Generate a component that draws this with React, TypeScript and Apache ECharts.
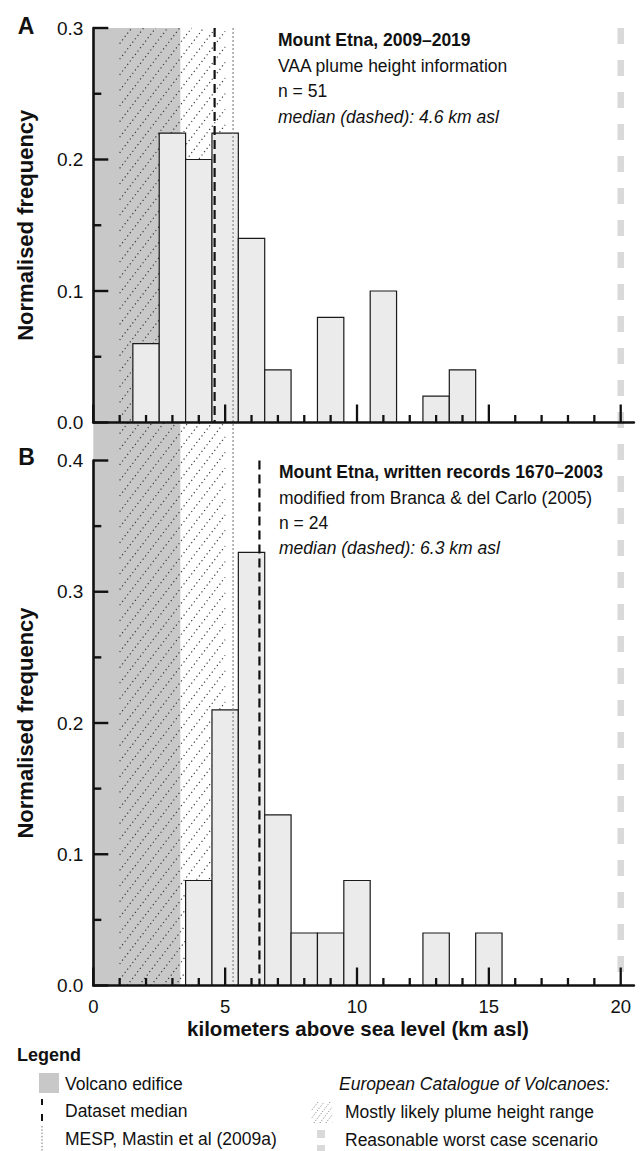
import React, { useEffect, useRef } from 'react';
import * as echarts from 'echarts';

// ---- data ----
const binCentersA = [2, 3, 4, 5, 6, 7, 9, 11, 13, 14];
const freqA = [0.06, 0.22, 0.2, 0.22, 0.14, 0.04, 0.08, 0.1, 0.02, 0.04];
const binCentersB = [4, 5, 6, 7, 8, 9, 10, 13, 15];
const freqB = [0.08, 0.21, 0.33, 0.13, 0.04, 0.04, 0.08, 0.04, 0.04];
const binWidth = 1;
const medianA = 4.6;
const medianB = 6.3;
const yMaxA = 0.3;
const yMaxB = 0.4;
const edifice = [0, 3.3];
const plumeRange = [1, 5];
const mesp = 5.3;
const worstCase = 20;
const xMax = 20.5;
const xMajorTicks = [0, 5, 10, 15, 20];
const xMinorTicks = [1, 2, 3, 4, 6, 7, 8, 9, 11, 12, 13, 14, 16, 17, 18, 19];
const yMajorA = [0, 0.1, 0.2, 0.3];
const yMinorA = [0.05, 0.15, 0.25];
const yMajorB = [0, 0.1, 0.2, 0.3, 0.4];
const yMinorB = [0.05, 0.15, 0.25, 0.35];

const FONT = '"Liberation Sans", Arial, Helvetica, sans-serif';
const INK = '#111111';

const LEFT = 93.3;
const WIDTH = 540.6;
const TOP_A = 28;
const H_A = 394.5;
const TOP_B = 460.5;
const H_B = 525;

function xAxis(gridIndex: number, labels: boolean) {
  return {
    type: 'value', gridIndex, min: 0, max: xMax, interval: 5, z: 50,
    axisLine: { show: true, onZero: false, lineStyle: { color: INK, width: 2.6 } },
    axisTick: { show: false },
    axisLabel: labels
      ? { show: true, customValues: xMajorTicks, fontSize: 18.5, color: INK, fontFamily: FONT, margin: 11 }
      : { show: false },
    splitLine: { show: false },
  };
}

function yAxis(gridIndex: number, max: number, majors: number[]) {
  return {
    type: 'value', gridIndex, min: 0, max, interval: 0.1, position: 'left', z: 50,
    axisLine: { show: true, onZero: false, lineStyle: { color: INK, width: 2.6 } },
    axisTick: { show: false },
    axisLabel: {
      show: true, customValues: majors, fontSize: 19, color: INK, fontFamily: FONT, margin: 10,
      formatter: (v: number) => v.toFixed(1),
    },
    splitLine: { show: false },
  };
}

function histSeries(idx: number, centers: number[], freqs: number[]) {
  return {
    type: 'custom', xAxisIndex: idx, yAxisIndex: idx, z: 3,
    data: centers.map((c, i) => [c, freqs[i]]),
    renderItem: (_p: any, api: any) => {
      const c = api.value(0);
      const v = api.value(1);
      const p0 = api.coord([c - binWidth / 2, v]);
      const p1 = api.coord([c + binWidth / 2, 0]);
      return {
        type: 'rect',
        shape: { x: p0[0], y: p0[1], width: p1[0] - p0[0], height: p1[1] - p0[1] },
        style: { fill: '#ebebeb', stroke: '#1a1a1a', lineWidth: 1.2 },
      };
    },
  };
}

function vLine(idx: number, x: number, yTop: number, color: string, width: number, dash: number[], z: number) {
  return {
    type: 'line', xAxisIndex: idx, yAxisIndex: idx, z, symbol: 'none', silent: true,
    data: [[x, yTop], [x, 0]],
    lineStyle: { color, width, type: dash, cap: 'butt' },
  };
}

function hatchLines(x0: number, y0: number, x1: number, y1: number, spacing: number, slope: number, style: any) {
  const h = y1 - y0;
  const tMax = h / slope;
  const out: any[] = [];
  for (let c = x0 - tMax; c <= x1; c += spacing) {
    const ta = Math.max(0, x0 - c);
    const tb = Math.min(tMax, x1 - c);
    if (tb <= ta) continue;
    out.push({
      type: 'line',
      shape: { x1: c + ta, y1: y1 - slope * ta, x2: c + tb, y2: y1 - slope * tb },
      style,
    });
  }
  return out;
}

const HATCH_STYLE = { stroke: '#3a3a3a', lineWidth: 1.2, lineDash: [1.2, 3], fill: null };

export default function App() {
  const ref = useRef<HTMLDivElement>(null);
  useEffect(() => {
    if (!ref.current) return;
    const chart = echarts.init(ref.current, undefined, { renderer: 'svg' });

    const graphicText = (text: string, x: number, y: number, opts: any = {}) => ({
      type: 'text', x, y, z: 20, rotation: opts.rotation || 0,
      style: {
        text, fill: INK, fontFamily: FONT, fontSize: opts.fontSize || 17.5,
        fontWeight: opts.fontWeight || 'normal', fontStyle: opts.fontStyle || 'normal',
        align: opts.align || 'left', verticalAlign: 'middle',
        textAlign: opts.align || 'left', textVerticalAlign: 'middle',
      },
    });

    const legendHatch = hatchLines(312, 1102, 332, 1123, 6, 1.3, { stroke: '#888', lineWidth: 1, lineDash: [1.2, 1.6], fill: null })
      .map((l: any) => ({ ...l, z: 20 }));

    const staticGraphic: any[] = [
      graphicText('A', 26, 26, { fontSize: 23, fontWeight: 'bold', align: 'center' }),
      graphicText('B', 26.5, 456.5, { fontSize: 23, fontWeight: 'bold', align: 'center' }),
      graphicText('Normalised frequency', 25, TOP_A + H_A / 2, { fontSize: 22, fontWeight: 'bold', align: 'center', rotation: Math.PI / 2 }),
      graphicText('Normalised frequency', 25, TOP_B + H_B / 2, { fontSize: 22, fontWeight: 'bold', align: 'center', rotation: Math.PI / 2 }),
      graphicText('Mount Etna, 2009\u20132019', 278, 40, { fontWeight: 'bold' }),
      graphicText('VAA plume height information', 278, 65.5),
      graphicText('n = 51', 278, 91),
      graphicText('median (dashed): 4.6 km asl', 278, 116.5, { fontStyle: 'italic' }),
      graphicText('Mount Etna, written records 1670\u20132003', 279, 472, { fontWeight: 'bold' }),
      graphicText('modified from Branca & del Carlo (2005)', 279, 497.5),
      graphicText('n = 24', 279, 523),
      graphicText('median (dashed): 6.3 km asl', 279, 548, { fontStyle: 'italic' }),
      graphicText('kilometers above sea level (km asl)', 358, 1028, { fontSize: 20.5, fontWeight: 'bold', align: 'center' }),
      // legend
      graphicText('Legend', 17, 1055, { fontSize: 18, fontWeight: 'bold' }),
      { type: 'rect', z: 20, shape: { x: 39, y: 1073, width: 20, height: 20 }, style: { fill: '#c8c8c8' } },
      graphicText('Volcano edifice', 65, 1083.5),
      { type: 'line', z: 20, shape: { x1: 42, y1: 1099, x2: 42, y2: 1105 }, style: { stroke: '#111', lineWidth: 2 } },
      { type: 'line', z: 20, shape: { x1: 42, y1: 1114, x2: 42, y2: 1121 }, style: { stroke: '#111', lineWidth: 2 } },
      graphicText('Dataset median', 65, 1111),
      { type: 'line', z: 20, shape: { x1: 42, y1: 1126, x2: 42, y2: 1151 }, style: { stroke: '#777', lineWidth: 1, lineDash: [1.5, 1.8] } },
      graphicText('MESP, Mastin et al (2009a)', 65, 1138.5),
      graphicText('European Catalogue of Volcanoes:', 339, 1084, { fontStyle: 'italic' }),
      ...legendHatch,
      graphicText('Mostly likely plume height range', 345, 1111.5),
      { type: 'rect', z: 20, shape: { x: 317, y: 1130, width: 8, height: 8 }, style: { fill: '#d9d9d9' } },
      { type: 'rect', z: 20, shape: { x: 317, y: 1145, width: 8, height: 8 }, style: { fill: '#d9d9d9' } },
      graphicText('Reasonable worst case scenario', 345, 1140),
    ];

    const option: any = {
      animation: false,
      backgroundColor: '#ffffff',
      grid: [
        { left: LEFT, top: TOP_A, width: WIDTH, height: H_A },
        { left: LEFT, top: TOP_B, width: WIDTH, height: H_B },
        { left: LEFT, top: TOP_A, width: WIDTH, height: TOP_B + H_B - TOP_A },
      ],
      xAxis: [
        xAxis(0, false),
        xAxis(1, true),
        { type: 'value', gridIndex: 2, min: 0, max: xMax, show: false },
      ],
      yAxis: [
        yAxis(0, yMaxA, yMajorA),
        yAxis(1, yMaxB, yMajorB),
        { type: 'value', gridIndex: 2, min: 0, max: 1, show: false },
      ],
      series: [
        {
          type: 'custom', xAxisIndex: 2, yAxisIndex: 2, z: 1, silent: true,
          data: [[edifice[0], edifice[1]]],
          encode: { x: [0, 1] },
          renderItem: (_p: any, api: any) => {
            const a = api.coord([api.value(0), 1]);
            const b = api.coord([api.value(1), 0]);
            return { type: 'rect', shape: { x: a[0], y: a[1], width: b[0] - a[0], height: b[1] - a[1] }, style: { fill: '#c8c8c8' } };
          },
        },
        {
          type: 'custom', xAxisIndex: 2, yAxisIndex: 2, z: 2, silent: true,
          data: [[plumeRange[0], plumeRange[1]]],
          encode: { x: [0, 1] },
          renderItem: (_p: any, api: any) => {
            const a = api.coord([api.value(0), 1]);
            const b = api.coord([api.value(1), 0]);
            return { type: 'group', children: hatchLines(a[0], a[1], b[0], b[1], 12, 1.3, HATCH_STYLE) };
          },
        },
        vLine(2, mesp, 1, '#7a7a7a', 1.1, [2, 2], 4),
        vLine(2, worstCase, 1, '#d9d9d9', 6.5, [16, 16], 2),
        histSeries(0, binCentersA, freqA),
        histSeries(1, binCentersB, freqB),
        vLine(0, medianA, yMaxA, '#111', 2.2, [9, 5], 5),
        vLine(1, medianB, yMaxB, '#111', 2.2, [9, 5], 5),
      ],
      graphic: staticGraphic,
    };
    chart.setOption(option);

    // axis ticks: positions come from the chart's own axis scales, drawn as thin filled bars
    const tickEls: any[] = [];
    const panels = [
      { idx: 0, yMajors: yMajorA, yMinors: yMinorA },
      { idx: 1, yMajors: yMajorB, yMinors: yMinorB },
    ];
    panels.forEach((pn) => {
      const finder: any = { xAxisIndex: pn.idx, yAxisIndex: pn.idx };
      const toPx = (pt: number[]) => chart.convertToPixel(finder, pt) as any;
      const xt = (v: number, len: number) => {
        const p = toPx([v, 0]);
        tickEls.push({ type: 'rect', z: 40, shape: { x: p[0] - 1.15, y: p[1] - len, width: 2.3, height: len }, style: { fill: INK } });
      };
      const yt = (v: number, len: number) => {
        const p = toPx([0, v]);
        tickEls.push({ type: 'rect', z: 40, shape: { x: p[0], y: p[1] - 1.2, width: len, height: 2.4 }, style: { fill: INK } });
      };
      xMajorTicks.forEach((v) => xt(v, 18));
      xMinorTicks.forEach((v) => xt(v, 7.5));
      pn.yMajors.forEach((v) => yt(v, 15));
      pn.yMinors.forEach((v) => yt(v, 8));
    });
    chart.setOption({ graphic: [...staticGraphic, ...tickEls] }, { replaceMerge: ['graphic'] } as any);

    return () => chart.dispose();
  }, []);
  return (
    <div
      ref={ref}
      style={{ position: 'fixed', left: 0, top: 0, width: 640, height: 1151, background: '#fff' }}
    />
  );
}
